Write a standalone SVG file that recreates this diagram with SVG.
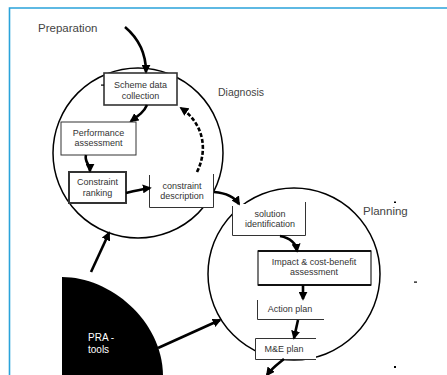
<svg xmlns="http://www.w3.org/2000/svg" width="447" height="375" viewBox="0 0 447 375">
  <defs>
    <style>
      .lbl { font-family: "Liberation Sans", Arial, sans-serif; fill: #444; }
      .box-txt { font-family: "Liberation Sans", Arial, sans-serif; font-size: 9px; fill: #333; text-anchor: middle; }
      .ring { fill: none; stroke: #000; stroke-width: 1.5; }
      .box { fill: #fff; stroke: #333; }
      .edge { fill: none; stroke: #000; stroke-width: 2.6; marker-end: url(#head); }
      .open { fill: none; stroke: #333; stroke-width: 1; }
    </style>
    <marker id="head" viewBox="0 0 10 10" refX="8" refY="5" markerWidth="9" markerHeight="9" markerUnits="userSpaceOnUse" orient="auto">
      <path d="M0,0 L10,5 L0,10 z" fill="#000"/>
    </marker>
  </defs>

  <rect width="447" height="375" fill="#fff"/>

  <!-- frame -->
  <path d="M9.5,375 L9.5,8 L447,8" fill="none" stroke="#2aa3da" stroke-width="1.6"/>

  <!-- stage labels -->
  <text class="lbl" x="38" y="32" font-size="11.5">Preparation</text>
  <text class="lbl" x="218" y="96" font-size="10.5">Diagnosis</text>
  <text class="lbl" x="363" y="215" font-size="11.5">Planning</text>

  <!-- stage rings -->
  <g id="diagnosis-ring"><circle class="ring" cx="138" cy="153" r="85"/></g>
  <g id="planning-ring"><circle class="ring" cx="294" cy="274" r="86"/></g>

  <!-- PRA tools -->
  <g id="pra-tools">
    <path d="M62,375 L62,277 C110,277 162,320 163,375 Z" fill="#000"/>
    <text x="88" y="341" font-family="Liberation Sans, Arial, sans-serif" font-size="10" fill="#fff">PRA -</text>
    <text x="88" y="353" font-family="Liberation Sans, Arial, sans-serif" font-size="10" fill="#fff">tools</text>
  </g>

  <!-- diagnosis steps -->
  <g id="scheme-data">
    <rect class="box" x="104" y="73" width="73" height="32" stroke-width="1.6"/>
    <text class="box-txt" x="140.5" y="88">Scheme data</text>
    <text class="box-txt" x="140.5" y="99">collection</text>
  </g>
  <g id="performance">
    <rect class="box" x="61" y="122" width="75" height="33" stroke-width="1" stroke="#555"/>
    <text class="box-txt" x="98.5" y="136">Performance</text>
    <text class="box-txt" x="98.5" y="146">assessment</text>
  </g>
  <g id="ranking">
    <rect class="box" x="69" y="172" width="57" height="31" stroke-width="2" stroke="#111"/>
    <text class="box-txt" x="97.5" y="185">Constraint</text>
    <text class="box-txt" x="97.5" y="196">ranking</text>
  </g>
  <g id="description">
    <rect x="149" y="175" width="65" height="33" fill="#fff"/>
    <path class="open" d="M149.5,175 L149.5,207.5 L213.5,207.5 L213.5,174"/>
    <text class="box-txt" x="182" y="189">constraint</text>
    <text class="box-txt" x="182" y="199">description</text>
  </g>

  <!-- planning steps -->
  <g id="solution">
    <rect x="232" y="204" width="74" height="32" fill="#fff"/>
    <path class="open" d="M232.5,206 L232.5,235.5 L305.5,235.5 L305.5,202"/>
    <text class="box-txt" x="270" y="217">solution</text>
    <text class="box-txt" x="270" y="226.5">identification</text>
  </g>
  <g id="impact">
    <rect class="box" x="258" y="251" width="113" height="34" stroke-width="1.3" stroke="#222"/>
    <path d="M258,251 L371,251 M258,285 L371,285" stroke="#111" stroke-width="2.2"/>
    <text class="box-txt" x="314" y="265" font-size="8.5">Impact &amp; cost-benefit</text>
    <text class="box-txt" x="314" y="275" font-size="8.5">assessment</text>
  </g>
  <g id="action-plan">
    <path class="open" d="M257.5,300 L257.5,319.5 L324,319.5"/>
    <text class="box-txt" x="290" y="312">Action plan</text>
  </g>
  <g id="me-plan">
    <rect x="255" y="338" width="61" height="21" fill="#fff"/>
    <path class="open" d="M316,338.5 L255.5,338.5 L255.5,359.5 L316,359.5"/>
    <text class="box-txt" x="284" y="351.5">M&amp;E plan</text>
  </g>

  <!-- connectors -->
  <g id="connectors">
    <path class="edge" d="M125,27 C138,38 146,52 146,72"/>
    <path class="edge" d="M147,105 C144,112 138,116 131,121"/>
    <path class="edge" d="M86,155 C84,162 90,164 90,171"/>
    <path class="edge" d="M126,193 C135,191 142,189 150,188"/>
    <path class="edge" d="M197,172 C208,150 204,124 181,108" stroke-dasharray="4 2"/>
    <path class="edge" d="M214,192 C225,193 234,196 239,204"/>
    <path class="edge" d="M280,236 C290,238 296,243 297,251"/>
    <path class="edge" d="M303,285 L303,299"/>
    <path class="edge" d="M298,320 L294,338"/>
    <path class="edge" d="M284,359 C278,364 272,368 267,375"/>
    <path class="edge" d="M91,272 L109,233"/>
    <path class="edge" d="M158,348 L220,320"/>
  </g>

  <!-- small stray marks -->
  <g fill="#000">
    <rect x="101" y="84.5" width="3" height="1.2"/>
    <rect x="394" y="201.5" width="2" height="1.5"/>
    <rect x="414" y="281.5" width="3" height="1.2"/>
    <rect x="394" y="366" width="2" height="2"/>
  </g>
</svg>
